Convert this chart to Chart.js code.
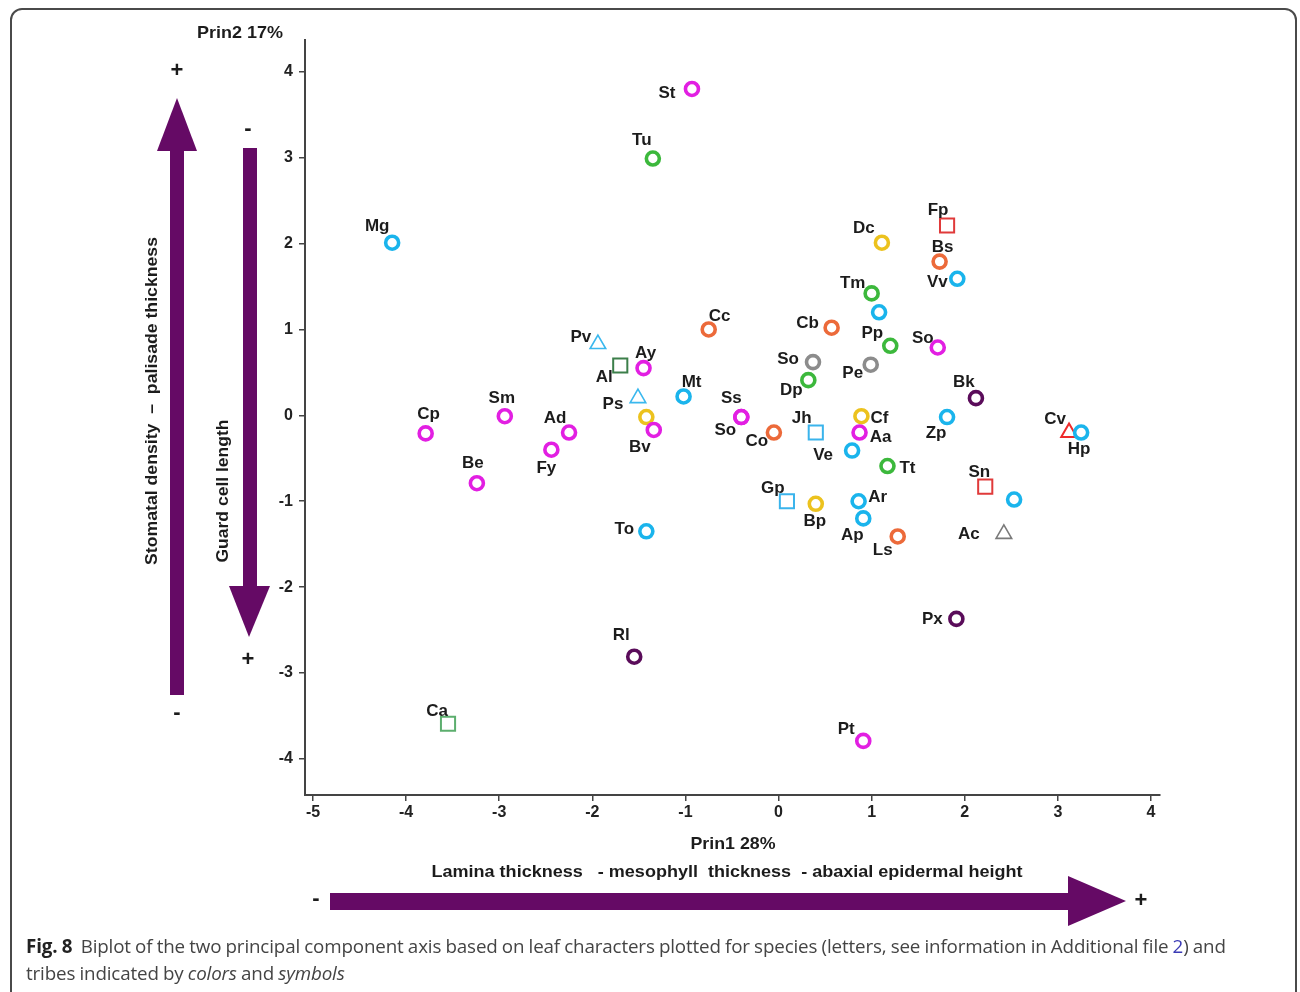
<!DOCTYPE html>
<html>
<head>
<meta charset="utf-8">
<script src="https://cdn.jsdelivr.net/npm/chart.js@4.4.1/dist/chart.umd.min.js"></script>
<style>
  body { margin: 0; background: #fff; }
  #wrap { position: relative; width: 1300px; height: 992px; overflow: hidden; }
  #frame { position: absolute; left: 10px; top: 8px; width: 1287px; height: 1010px;
           border: 2px solid #4a4a4a; border-radius: 12px; box-sizing: border-box; }
  #plot { position: absolute; left: 0; top: 0; }
  #caption { position: absolute; left: 26px; top: 933px; width: 1265px;
             font-family: "Open Sans", sans-serif; font-size: 18.8px; line-height: 27px;
             color: #444; letter-spacing: -0.15px; word-spacing: -0.5px; }
  #caption b { color: #222; }
  #caption .lnk { color: #3b3bb5; }
</style>
</head>
<body>
<div id="wrap">
  <div id="frame"></div>
  <canvas id="plot" width="1300" height="992"></canvas>
  <div id="caption"><b>Fig. 8</b>&nbsp; Biplot of the two principal component axis based on leaf characters plotted for species (letters, see information in Additional file <span class="lnk">2</span>) and<br>tribes indicated by <i>colors</i> and <i>symbols</i></div>
</div>
<script>
// species codes (empty = unlabelled point)
var species = ['St','Tu','Mg','Fp','Dc','Bs','Vv','Tm','','Cb','Cc','Pp','So','Pv','Al','Ay','So','Pe','Dp','Mt',
               'Ps','Bk','Sm','Cp','Ad','Fy','Be','','Bv','Ss','So','Co','Jh','Cf','Aa','Ve','Zp','Cv','Hp','Tt',
               'Sn','','Gp','Bp','Ar','Ap','Ls','Ac','To','Px','Rl','Ca','Pt'];
var prin1 = [-0.93,-1.35,-4.15,1.81,1.11,1.73,1.92,1.00,1.08,0.57,-0.75,1.20,1.71,-1.94,-1.70,-1.45,0.37,0.99,0.32,-1.02,
             -1.51,2.12,-2.94,-3.79,-2.25,-2.44,-3.24,-1.42,-1.34,-0.40,-0.40,-0.05,0.40,0.89,0.87,0.79,1.81,3.12,3.25,1.17,
             2.22,2.53,0.09,0.40,0.86,0.91,1.28,2.42,-1.42,1.91,-1.55,-3.55,0.91];
var prin2 = [3.80,2.99,2.01,2.21,2.01,1.79,1.59,1.42,1.20,1.02,1.00,0.81,0.79,0.83,0.58,0.55,0.62,0.59,0.41,0.22,
             0.20,0.20,-0.01,-0.21,-0.20,-0.40,-0.79,-0.02,-0.17,-0.02,-0.02,-0.20,-0.20,-0.01,-0.20,-0.41,-0.02,-0.20,-0.20,-0.59,
             -0.83,-0.98,-1.00,-1.03,-1.00,-1.20,-1.41,-1.38,-1.35,-2.37,-2.81,-3.59,-3.79];
// tribe index per species (see tribeStyles)
var tribe = [0,2,1,7,4,3,1,2,1,3,3,2,0,10,11,0,5,5,2,1,
             10,6,0,0,0,0,0,4,0,0,0,3,9,4,0,1,1,8,1,2,
             7,1,9,4,1,1,3,12,1,6,6,13,0];
var xTicks = [-5,-4,-3,-2,-1,0,1,2,3,4];
var yTicks = [-4,-3,-2,-1,0,1,2,3,4];

// label offsets from point (px), same order as species
var labelOff = [[-25,4],[-11,-18],[-15,-16],[-9,-15],[-18,-14],[3,-14],[-20,4],[-19,-10],null,[-24,-4],
                [11,-13],[-18,-12],[-15,-9],[-17,-7],[-16,12],[2,-15],[-25,-3],[-18,9],[-17,10],[8,-14],
                [-25,6],[-12,-16],[-3,-18],[3,-19],[-14,-14],[-5,19],[-4,-20],null,[-14,17],[-10,-19],
                [-16,13],[-17,9],[-14,-14],[18,2],[21,5],[-29,5],[-11,16],[-14,-13],[-2,17],[20,2],
                [-6,-14],null,[-14,-13],[-1,17],[19,-4],[-11,17],[-15,14],[-35,0],[-22,-2],[-24,0],
                [-13,-21],[-11,-12],[-17,-12]];

var tribeStyles = [
  {color:'#e21fe2', shape:'circle', r:6.5, w:3.6},
  {color:'#1ab4ec', shape:'circle', r:6.5, w:3.6},
  {color:'#3cb83c', shape:'circle', r:6.5, w:3.6},
  {color:'#ec6a3a', shape:'circle', r:6.5, w:3.6},
  {color:'#ecc21e', shape:'circle', r:6.5, w:3.6},
  {color:'#8c8c8c', shape:'circle', r:6.5, w:3.6},
  {color:'#5a0c5a', shape:'circle', r:6.5, w:3.6},
  {color:'#e03a3a', shape:'rect', r:10, w:2},
  {color:'#ee2a2a', shape:'triangle', r:9, w:2},
  {color:'#3ab4ec', shape:'rect', r:10, w:2},
  {color:'#3ab8ee', shape:'triangle', r:9, w:1.6},
  {color:'#3c7f4a', shape:'rect', r:10, w:2},
  {color:'#7a7a7a', shape:'triangle', r:9, w:1.6},
  {color:'#5cae6e', shape:'rect', r:10, w:2}
];

var datasets = tribeStyles.map(function(t, k){
  var idx = [];
  for (var i = 0; i < species.length; i++) if (tribe[i] === k) idx.push(i);
  return {
    data: idx.map(function(i){ return {x: prin1[i], y: prin2[i]}; }),
    idx: idx,
    pointStyle: t.shape,
    pointRadius: t.r,
    pointHoverRadius: t.r,
    pointBorderWidth: t.w,
    borderColor: t.color,
    backgroundColor: 'rgba(255,255,255,0)',
    showLine: false
  };
});

var PURPLE = '#650a65';
var FAMILY = 'Arial, "Liberation Sans", sans-serif';

var labelPlugin = {
  id: 'pointLabels',
  afterDatasetsDraw: function(chart){
    var ctx = chart.ctx;
    ctx.save();
    ctx.font = 'bold 17px ' + FAMILY;
    ctx.fillStyle = '#1c1c1c';
    ctx.textAlign = 'center';
    ctx.textBaseline = 'middle';
    chart.data.datasets.forEach(function(ds, d){
      var meta = chart.getDatasetMeta(d);
      meta.data.forEach(function(el, j){
        var i = ds.idx[j];
        if (!species[i] || !labelOff[i]) return;
        ctx.fillText(species[i], el.x + labelOff[i][0], el.y + labelOff[i][1]);
      });
    });
    ctx.restore();
  }
};

// draw text centred at x,y; if fitW is given, stretch/squeeze it to that width
function text(ctx, s, x, y, font, fitW, rot){
  ctx.save();
  ctx.translate(x, y);
  if (rot) ctx.rotate(rot);
  ctx.font = font;
  ctx.textAlign = 'center';
  ctx.textBaseline = 'middle';
  ctx.fillStyle = '#1c1c1c';
  if (fitW) ctx.scale(fitW / ctx.measureText(s).width, 1);
  ctx.fillText(s, 0, 0);
  ctx.restore();
}

var decorPlugin = {
  id: 'decor',
  afterDraw: function(chart){
    var ctx = chart.ctx;
    ctx.save();
    ctx.fillStyle = PURPLE;
    // up arrow (stomatal density)
    ctx.fillRect(170, 150, 14, 545);
    ctx.beginPath(); ctx.moveTo(157,151); ctx.lineTo(197,151); ctx.lineTo(177,98); ctx.closePath(); ctx.fill();
    // down arrow (guard cell length)
    ctx.fillRect(243, 148, 14, 439);
    ctx.beginPath(); ctx.moveTo(229,586); ctx.lineTo(270,586); ctx.lineTo(249,637); ctx.closePath(); ctx.fill();
    // right arrow (prin1)
    ctx.fillRect(330, 893, 740, 17);
    ctx.beginPath(); ctx.moveTo(1068,876); ctx.lineTo(1068,926); ctx.lineTo(1126,901); ctx.closePath(); ctx.fill();
    ctx.restore();

    var sign = 'bold 22px ' + FAMILY;
    text(ctx, '+', 177, 71, sign);
    text(ctx, '-', 177, 713, sign);
    text(ctx, '-', 248, 129, sign);
    text(ctx, '+', 248, 660, sign);
    text(ctx, '-', 316, 899, sign);
    text(ctx, '+', 1141, 901, sign);

    var f = 'bold 17px ' + FAMILY;
    text(ctx, 'Prin2 17%', 240, 33, f, 86);
    text(ctx, 'Prin1 28%', 733, 844, f, 85);
    text(ctx, 'Stomatal density  \u2013  palisade thickness', 152, 401, f, 328, -Math.PI/2);
    text(ctx, 'Guard cell length', 223, 491, f, 143, -Math.PI/2);
    text(ctx, 'Lamina thickness   - mesophyll  thickness  - abaxial epidermal height', 727, 872, f, 591);
  }
};

var tickFont = {family: FAMILY, size: 16, weight: 'bold'};

var canvas = document.getElementById('plot');
var chart = new Chart(canvas, {
  type: 'scatter',
  data: { datasets: datasets },
  options: {
    responsive: false,
    animation: false,
    devicePixelRatio: 1,
    layout: { padding: { left: 245, top: 40, right: 140, bottom: 157 } },
    plugins: { legend: { display: false }, tooltip: { enabled: false } },
    scales: {
      x: {
        type: 'linear', min: -5.086, max: 4.097,
        afterFit: function(s){ s.height = 40; },
        afterBuildTicks: function(s){ s.ticks = xTicks.map(function(v){ return {value: v}; }); },
        ticks: { font: tickFont, color: '#222', padding: 2, includeBounds: false },
        grid: { drawOnChartArea: false, tickLength: 6, color: '#444', lineWidth: 1.5 },
        border: { color: '#444', width: 2 }
      },
      y: {
        type: 'linear', min: -4.42, max: 4.37,
        afterFit: function(s){ s.width = 60; },
        afterBuildTicks: function(s){ s.ticks = yTicks.map(function(v){ return {value: v}; }); },
        ticks: { font: tickFont, color: '#222', padding: 6, includeBounds: false },
        grid: { drawOnChartArea: false, tickLength: 6, color: '#444', lineWidth: 1.5 },
        border: { color: '#444', width: 2 }
      }
    }
  },
  plugins: [decorPlugin, labelPlugin]
});
</script>
</body>
</html>
